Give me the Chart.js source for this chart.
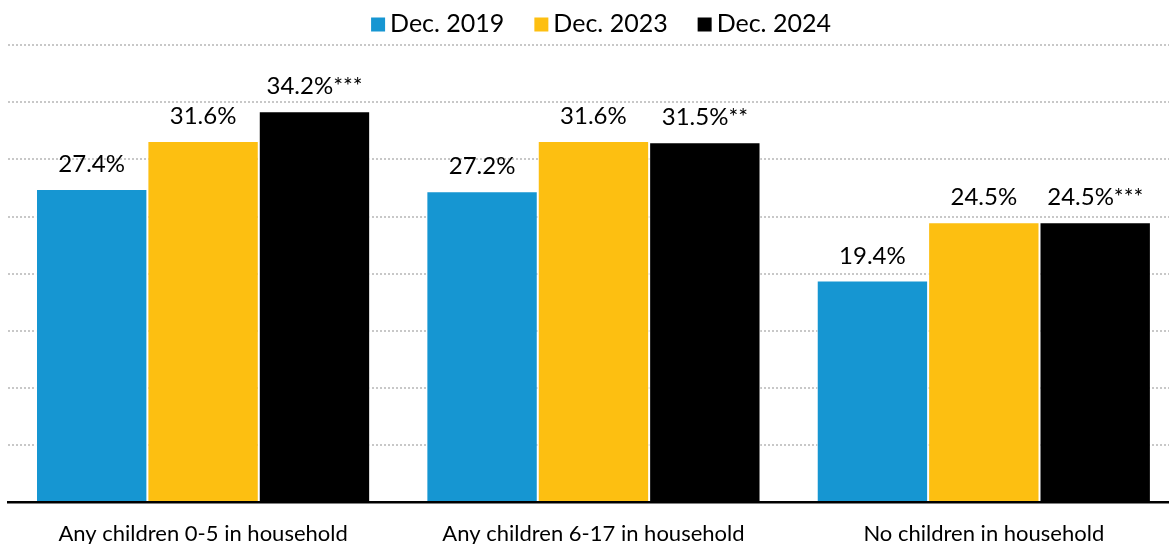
<!DOCTYPE html>
<html><head><meta charset="utf-8">
<script src="https://cdn.jsdelivr.net/npm/chart.js@4"></script>
<style>html,body{margin:0;padding:0;overflow:hidden;background:#fff}#wrap{width:1179px;height:544px;position:relative}</style>
</head><body><div id="wrap"><canvas id="c" width="1179" height="544"></canvas></div>
<script>
const categories = ["Any children 0-5 in household", "Any children 6-17 in household", "No children in household"];
const seriesNames = ["Dec. 2019", "Dec. 2023", "Dec. 2024"];
const dec2019 = [27.4, 27.2, 19.4];
const dec2023 = [31.6, 31.6, 24.5];
const dec2024 = [34.2, 31.5, 24.5];
const dec2019Stars = ["", "", ""];
const dec2023Stars = ["", "", ""];
const dec2024Stars = ["***", "**", "***"];
const yTicks = [0, 5, 10, 15, 20, 25, 30, 35, 40];

const colors = ["#1696d2", "#fdbf11", "#000000"];
const FONT = "Lato, 'Noto Sans', sans-serif";

const valueLabels = {
  id: 'valueLabels',
  afterDatasetsDraw(chart) {
    const ctx = chart.ctx;
    ctx.save();
    ctx.fillStyle = '#000';
    ctx.textBaseline = 'alphabetic';
    ctx.textAlign = 'left';
    chart.data.datasets.forEach((ds, di) => {
      const meta = chart.getDatasetMeta(di);
      meta.data.forEach((bar, i) => {
        const main = ds.data[i].toFixed(1) + '%';
        const stars = ds.stars[i] || '';
        ctx.font = "24px " + FONT;
        const w1 = ctx.measureText(main).width;
        ctx.font = "23px " + FONT;
        const w2 = stars ? ctx.measureText(stars).width : 0;
        const x0 = bar.x - (w1 + w2) / 2;
        const yb = bar.y - 17;
        ctx.font = "24px " + FONT;
        ctx.fillText(main, x0, yb);
        if (stars) {
          ctx.font = "23px " + FONT;
          ctx.fillText(stars, x0 + w1, yb);
        }
      });
    });
    ctx.restore();
  }
};

const customLegend = {
  id: 'customLegend',
  afterDraw(chart) {
    const ctx = chart.ctx;
    ctx.save();
    ctx.font = "25px " + FONT;
    ctx.textBaseline = 'alphabetic';
    const box = 14, gap = 5, itemGap = 30;
    const widths = seriesNames.map(s => ctx.measureText(s).width);
    const total = widths.reduce((a, w) => a + box + gap + w, 0) + itemGap * (seriesNames.length - 1);
    let x = 601 - total / 2;
    const baseY = 31.5;
    seriesNames.forEach((s, i) => {
      ctx.fillStyle = colors[i];
      ctx.fillRect(x, baseY - 14, box, 14);
      ctx.fillStyle = '#000';
      ctx.fillText(s, x + box + gap, baseY);
      x += box + gap + widths[i] + itemGap;
    });
    ctx.restore();
  }
};

const starsList = [dec2019Stars, dec2023Stars, dec2024Stars];
const values = [dec2019, dec2023, dec2024];

new Chart(document.getElementById('c'), {
  type: 'bar',
  data: {
    labels: categories,
    datasets: seriesNames.map((n, i) => ({
      label: n,
      data: values[i],
      stars: starsList[i],
      backgroundColor: colors[i],
      borderColor: 'rgba(255,255,255,0.9)',
      borderWidth: {top: 1, left: 1, right: 1, bottom: 0},
      borderSkipped: 'bottom',
      categoryPercentage: 0.856,
      barPercentage: 1.0
    }))
  },
  options: {
    responsive: false,
    devicePixelRatio: 1,
    animation: false,
    layout: { padding: { top: 45, left: 0, right: 0, bottom: 0 } },
    plugins: { legend: { display: false }, tooltip: { enabled: false } },
    scales: {
      x: {
        grid: { display: false, drawTicks: false },
        border: { display: true, color: '#000', width: 2.5, z: 1 },
        ticks: { color: '#000', font: { family: FONT, size: 22 }, padding: 18, maxRotation: 0 },
        afterFit(s) { s.height = 41.6; }
      },
      y: {
        min: 0, max: 40,
        afterBuildTicks(s) { s.ticks = yTicks.map(v => ({ value: v })); },
        grid: { color: '#c8c8c8', lineWidth: 2, drawTicks: false },
        border: { display: false, dash: [2, 2] },
        ticks: { display: false },
        afterFit(s) { s.width = 7.9; }
      }
    }
  },
  plugins: [valueLabels, customLegend]
});
</script>
</body></html>
